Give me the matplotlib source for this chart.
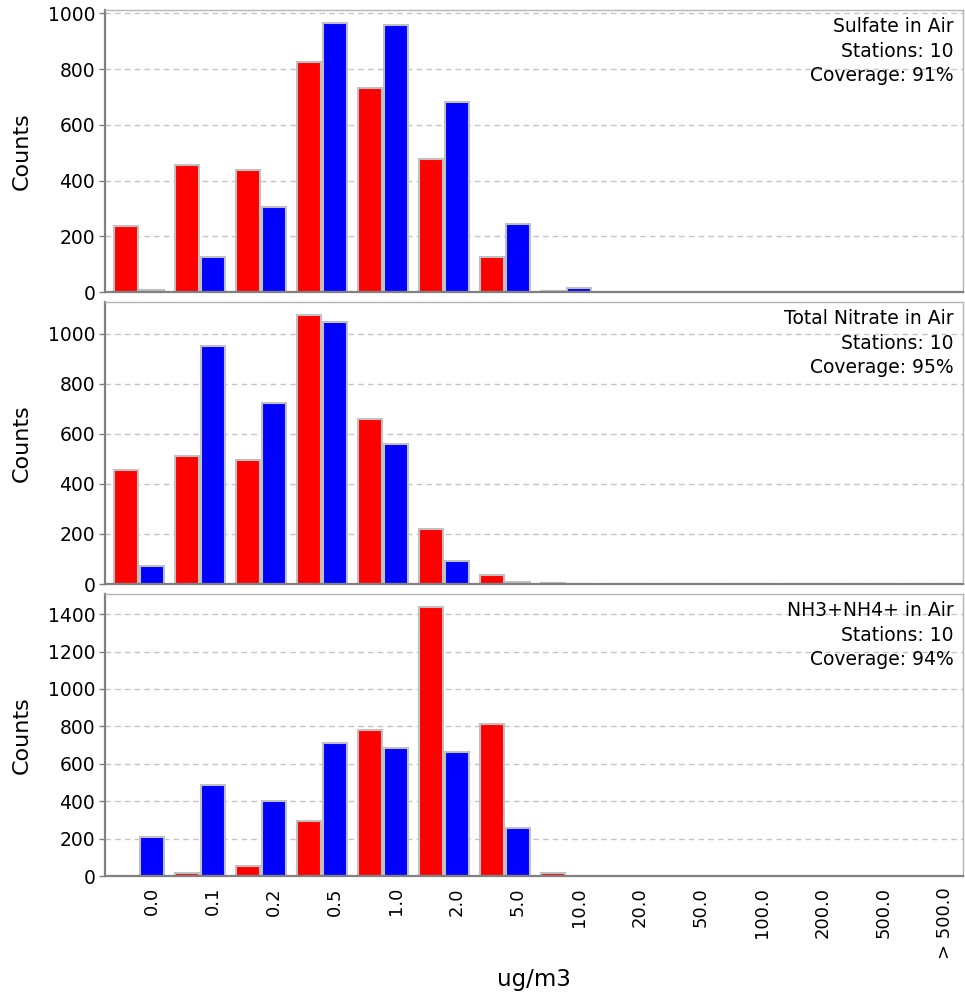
import numpy as np
import matplotlib
matplotlib.use("Agg")
import matplotlib.pyplot as plt

plt.rcParams['font.family'] = ['DejaVu Sans']

categories = ['0.0', '0.1', '0.2', '0.5', '1.0', '2.0', '5.0', '10.0',
              '20.0', '50.0', '100.0', '200.0', '500.0', '> 500.0']

sulfate_red = [237, 456, 438, 826, 734, 476, 127, 3, 0, 0, 0, 0, 0, 0]
sulfate_blue = [8, 124, 304, 964, 958, 683, 244, 13, 0, 0, 0, 0, 0, 0]
nitrate_red = [454, 510, 494, 1073, 661, 219, 35, 2, 0, 0, 0, 0, 0, 0]
nitrate_blue = [73, 950, 722, 1045, 558, 93, 8, 1, 0, 0, 0, 0, 0, 0]
ammonia_red = [0, 14, 54, 293, 783, 1436, 815, 14, 0, 0, 0, 0, 0, 0]
ammonia_blue = [211, 486, 401, 710, 685, 664, 254, 2, 0, 0, 0, 0, 0, 0]

panels = [
    ('Sulfate in Air', 10, 91, sulfate_red, sulfate_blue, np.arange(0, 1001, 200)),
    ('Total Nitrate in Air', 10, 95, nitrate_red, nitrate_blue, np.arange(0, 1001, 200)),
    ('NH3+NH4+ in Air', 10, 94, ammonia_red, ammonia_blue, np.arange(0, 1401, 200)),
]

W, H = 965, 1001
fig = plt.figure(figsize=(W / 100, H / 100), dpi=100)

left, right = 105, 963
tops = [10, 302, 594]
panel_h = 282

x = np.arange(len(categories))
bw = 0.39
off = 0.21

axes = []
for (name, stations, cover, red, blue, yt), top in zip(panels, tops):
    ax = fig.add_axes([left / W, 1 - (top + panel_h) / H, (right - left) / W, panel_h / H])
    axes.append(ax)
    ax.set_axisbelow(True)
    ax.bar(x - off, red, width=bw, color='#ff0000', edgecolor='#c0c0c0', linewidth=1.5)
    ax.bar(x + off, blue, width=bw, color='#0000ff', edgecolor='#c0c0c0', linewidth=1.5)

    # 5% headroom above the tallest bar
    ymax = max(max(red), max(blue)) * 1.05
    ax.set_ylim(0, ymax)
    ax.set_xlim(-0.557, 13.51)
    ax.set_yticks(yt)
    ax.yaxis.grid(True, color='#c4c4c4', linestyle=(0, (4, 3)), linewidth=1)
    ax.tick_params(axis='y', labelsize=13.5, length=4, width=1, color='#808080', pad=3)
    ax.tick_params(axis='x', length=0)

    for side in ('top', 'right'):
        ax.spines[side].set_color('#b4b4b4')
        ax.spines[side].set_linewidth(1)
    for side in ('left', 'bottom'):
        ax.spines[side].set_color('#808080')
        ax.spines[side].set_linewidth(1.6)

    ax.set_ylabel('Counts', fontsize=16)
    ax.yaxis.set_label_coords(-0.085, 0.5)

    ax.text(0.989, 0.975, f'{name}\nStations: {stations}\nCoverage: {cover}%',
            transform=ax.transAxes, ha='right', va='top', fontsize=13.5,
            linespacing=1.38)

for ax in axes[:-1]:
    ax.set_xticks([])

bottom = axes[-1]
bottom.set_xticks(x + off)
bottom.set_xticklabels(categories, rotation=90, fontsize=13)
bottom.tick_params(axis='x', pad=8)
bottom.set_xlabel('ug/m3', fontsize=16.5)
bottom.xaxis.set_label_coords(0.5, -0.325)

fig.savefig('out.png', dpi=100)
